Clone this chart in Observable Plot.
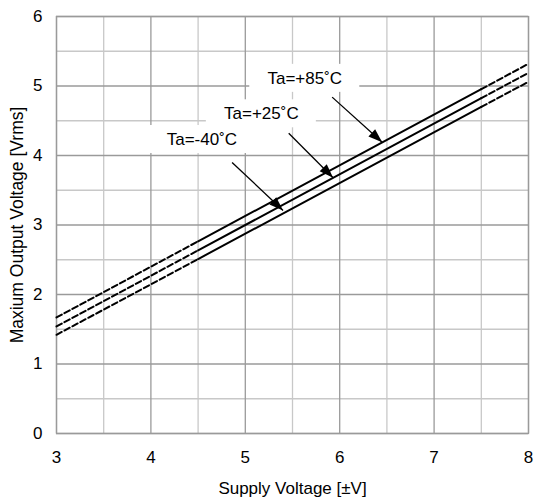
<!DOCTYPE html>
<html><head><meta charset="utf-8">
<script src="https://cdn.jsdelivr.net/npm/d3@7"></script>
<script src="https://cdn.jsdelivr.net/npm/@observablehq/plot@0.6"></script>
<style>body{margin:0;background:#fff}</style>
</head><body><div id="chart"></div>
<script>
// Data
const supplyVoltage = [3, 4.5, 7.5, 8];
const vout85 = [1.67, 2.765, 4.955, 5.32];
const vout25 = [1.54, 2.635, 4.825, 5.19];
const voutM40 = [1.42, 2.51, 4.70, 5.06];
const seriesNames = ["Ta=+85˚C", "Ta=+25˚C", "Ta=-40˚C"];
const labelX = [5.63, 5.17, 4.54];
const labelY = [5.11, 4.60, 4.23];
const arrowFromX = [5.92, 5.46, 4.86];
const arrowFromY = [4.84, 4.32, 3.90];
const arrowToX = [6.45, 5.93, 5.40];
const arrowToY = [4.19, 3.68, 3.21];
const xTicks = [3, 4, 5, 6, 7, 8];
const yTicks = [0, 1, 2, 3, 4, 5, 6];
const xMinor = [3.5, 4.5, 5.5, 6.5, 7.5];
const yMinor = [0.5, 1.5, 2.5, 3.5, 4.5, 5.5];

const W = 534, H = 504, mL = 56, mR = 6, mT = 16, mB = 71;
const kx = (W - mL - mR) / 5, ky = (H - mT - mB) / 6;

const allSeries = [vout85, vout25, voutM40];
const rows = [];
allSeries.forEach((vals, s) => supplyVoltage.forEach((x, i) => rows.push({x, y: vals[i], s: seriesNames[s], i})));
const dashA = rows.filter(d => d.i <= 1);
const solid = rows.filter(d => d.i >= 1 && d.i <= 2);
const dashB = rows.filter(d => d.i >= 2);

const labels = seriesNames.map((name, k) => ({
  name, x: labelX[k], y: labelY[k],
  x1: labelX[k] - 55 / kx, x2: labelX[k] + 55 / kx,
  y1: labelY[k] - 14 / ky, y2: labelY[k] + 14 / ky
}));
const arrows = seriesNames.map((name, k) => ({
  x1: arrowFromX[k], y1: arrowFromY[k], x2: arrowToX[k], y2: arrowToY[k],
  angle: Math.atan2((arrowToX[k] - arrowFromX[k]) * kx, (arrowToY[k] - arrowFromY[k]) * ky) * 180 / Math.PI
}));

const arrowHead = {
  draw(ctx) { ctx.moveTo(0, 0); ctx.lineTo(-5, 14); ctx.lineTo(5, 14); ctx.closePath(); }
};

const chart = Plot.plot({
  width: W, height: H,
  marginLeft: mL, marginRight: mR, marginTop: mT, marginBottom: mB,
  style: {fontFamily: "Liberation Sans, Arial, sans-serif", fontSize: "17px", color: "#000", background: "#fff"},
  x: {domain: [3, 8]},
  y: {domain: [0, 6]},
  marks: [
    Plot.gridX(xMinor, {stroke: "#c8c8c8", strokeOpacity: 1, strokeWidth: 1.3}),
    Plot.gridY(yMinor, {stroke: "#c8c8c8", strokeOpacity: 1, strokeWidth: 1.3}),
    Plot.gridX(xTicks, {stroke: "#9a9a9a", strokeOpacity: 1, strokeWidth: 1.3}),
    Plot.gridY(yTicks, {stroke: "#9a9a9a", strokeOpacity: 1, strokeWidth: 1.3}),
    Plot.frame({stroke: "#9a9a9a", strokeWidth: 1.3}),
    Plot.axisX(xTicks, {tickSize: 0, tickPadding: 17, label: null, fontSize: 17, tickFormat: "d"}),
    Plot.axisY(yTicks, {tickSize: 0, tickPadding: 14, label: null, fontSize: 17, tickFormat: "d"}),
    Plot.text(["Supply Voltage [±V]"], {frameAnchor: "bottom", dy: 60, fontSize: 17, textAnchor: "middle"}),
    Plot.text(["Maxium Output Voltage [Vrms]"], {frameAnchor: "left", dx: -39, rotate: -90, fontSize: 17.5, textAnchor: "middle"}),
    Plot.rect(labels, {x1: "x1", x2: "x2", y1: "y1", y2: "y2", fill: "white"}),
    Plot.text(labels, {x: "x", y: "y", text: "name", fontSize: 17}),
    Plot.line(dashA, {x: "x", y: "y", z: "s", stroke: "black", strokeWidth: 2, strokeDasharray: "6,3"}),
    Plot.line(solid, {x: "x", y: "y", z: "s", stroke: "black", strokeWidth: 2}),
    Plot.line(dashB, {x: "x", y: "y", z: "s", stroke: "black", strokeWidth: 2, strokeDasharray: "6,3"}),
    Plot.link(arrows, {x1: "x1", y1: "y1", x2: "x2", y2: "y2", stroke: "black", strokeWidth: 1.3}),
    Plot.dot(arrows, {x: "x2", y: "y2", symbol: arrowHead, fill: "black", stroke: "none", rotate: "angle", r: 5})
  ]
});
document.getElementById("chart").appendChild(chart);
</script>
</body></html>
